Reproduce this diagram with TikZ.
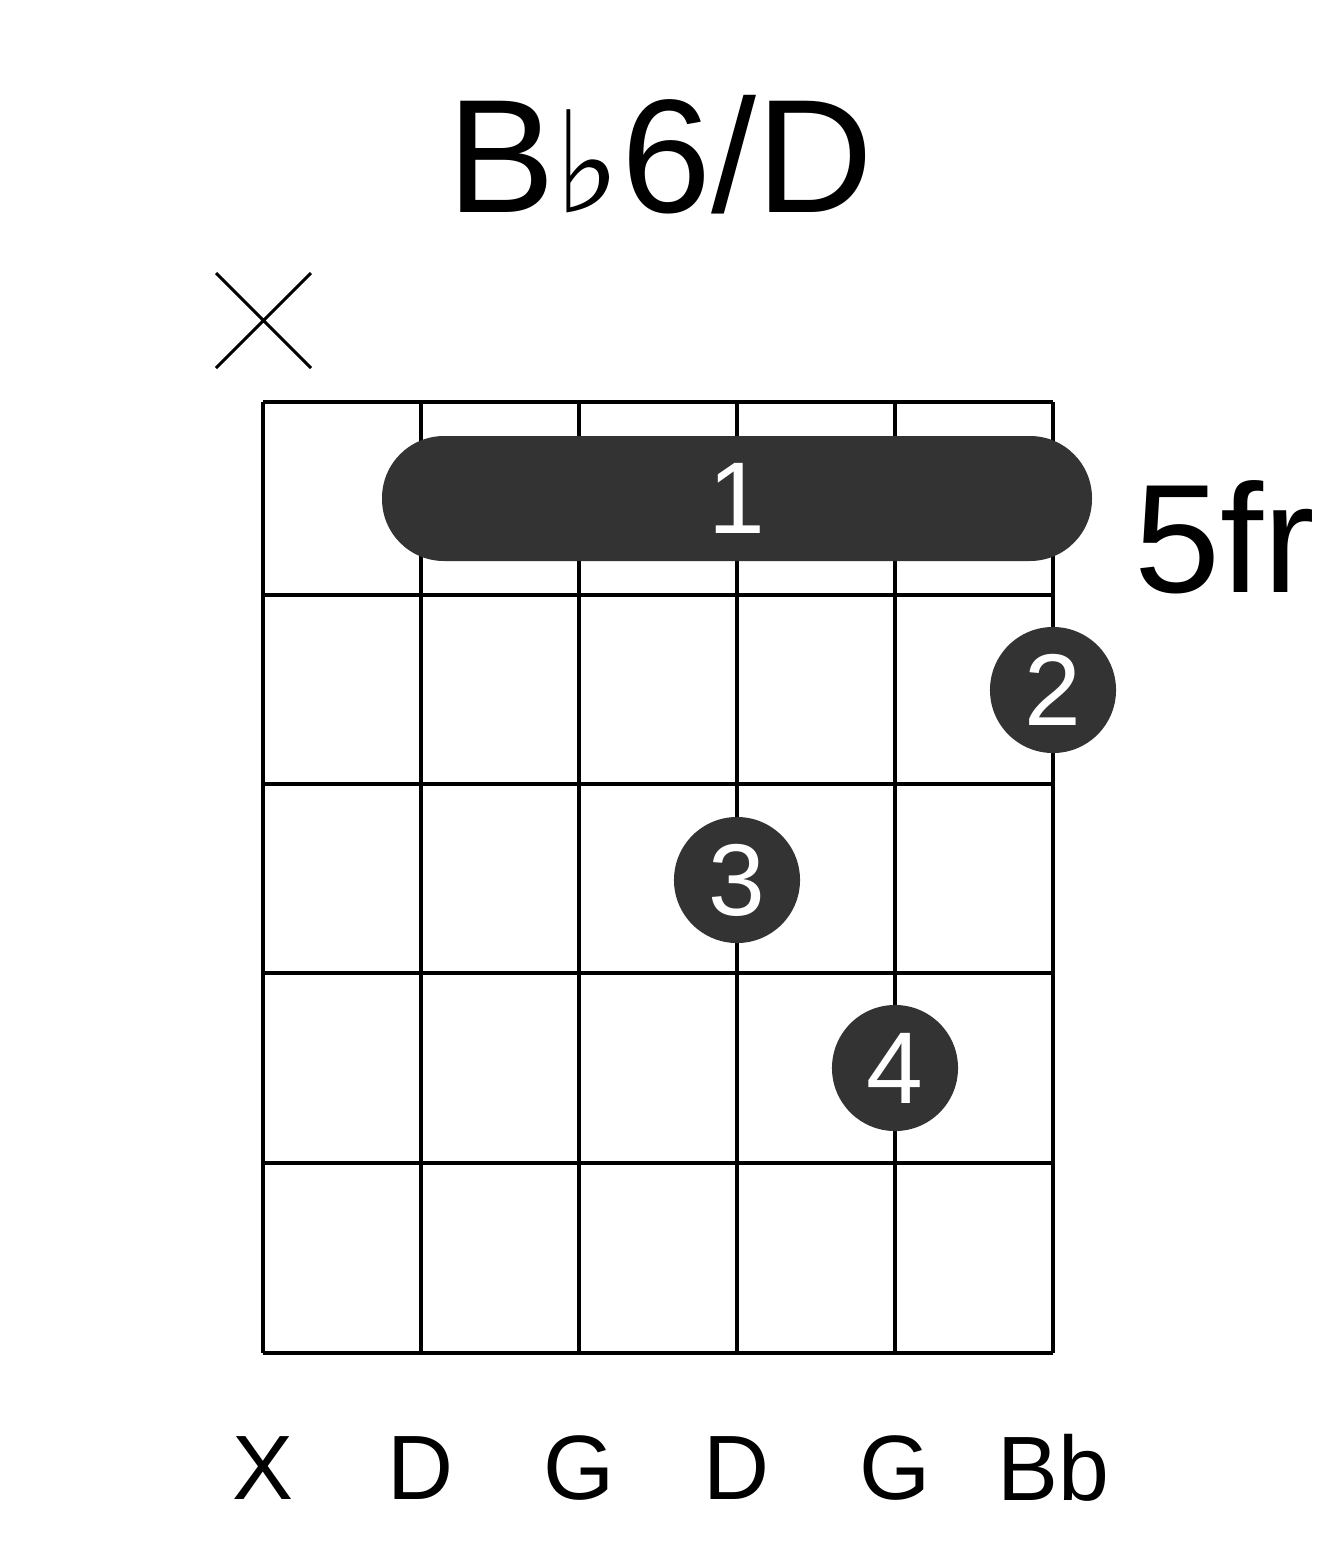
\documentclass[tikz,border=0pt]{standalone}
\usepackage{fontspec}
\setmainfont{Liberation Sans}
\newfontfamily\symf{DejaVu Sans}
\begin{document}
\begin{tikzpicture}[x=0.01cm,y=-0.01cm,
  gridline/.style={line width=1.2pt,black},
  fdot/.style={circle,fill=black!80,minimum size=126*0.2845pt,inner sep=0pt,text=white,font=\fontsize{29}{29}\selectfont},
  lab/.style={font=\fontsize{26}{26}\selectfont}]
\useasboundingbox (0,0) rectangle (1317,1551);
\foreach \x in {263,421,579,737,895,1053} \draw[gridline] (\x,402) -- (\x,1353);
\foreach \y in {402,595,784,973,1163,1353} \draw[gridline] (263,\y) -- (1053,\y);
\fill[black!80,rounded corners=62*0.2845pt] (382,436) rectangle (1092,561);
\node[text=white,font=\fontsize{29}{29}\selectfont] (b1) at (737,498) {1};
\node[fdot] (d2) at (1053,690) {2};
\node[fdot] (d3) at (737,880) {3};
\node[fdot] (d4) at (895,1068) {4};
\draw[line width=0.9pt] (216,273) -- (311,368) (311,273) -- (216,368);
\node[font=\fontsize{46}{46}\selectfont] (title) at (660,155) {B{\symf\fontsize{40}{40}\selectfont ♭}6/D};
\node[font=\fontsize{44}{44}\selectfont] (fr) at (1225,537) {5fr};
\foreach \x/\t in {263/X,421/D,579/G,737/D,895/G,1053/Bb}
  \node[lab] at (\x,1468) {\t};
\end{tikzpicture}
\end{document}
